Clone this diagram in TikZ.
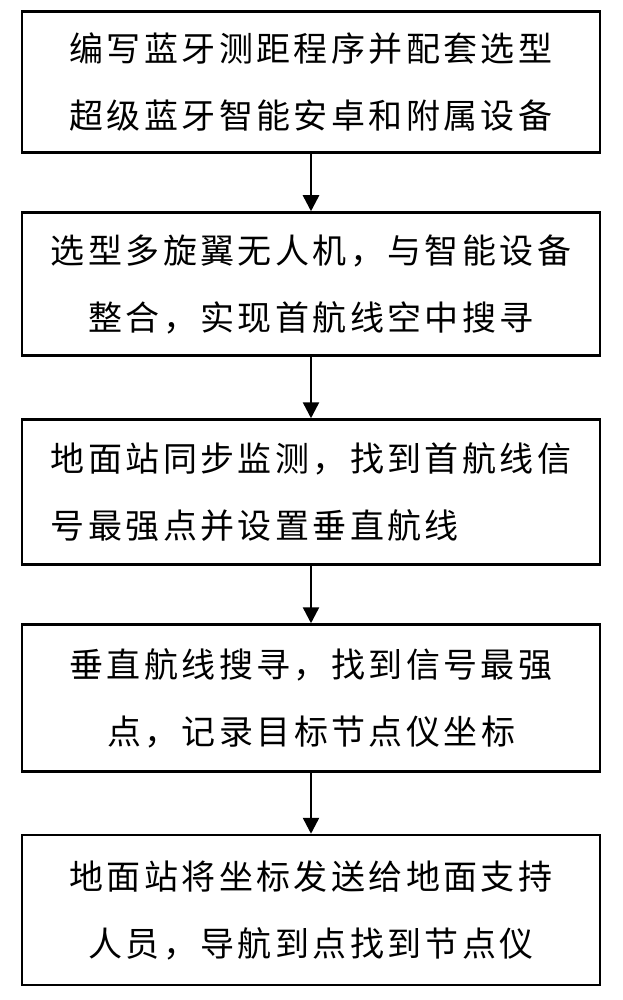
\documentclass[tikz,border=0pt]{standalone}
\usepackage{fontspec}
\newfontfamily\cjk[LetterSpace=10]{Noto Sans CJK SC}
\usetikzlibrary{arrows.meta}
\begin{document}
\begin{tikzpicture}[x=1pt,y=-1pt,
  box/.style={draw,line width=2.5pt,minimum width=578pt,inner sep=0pt,font=\cjk\fontsize{34}{67}\selectfont},
  arr/.style={-{Triangle[length=16pt,width=16pt]},line width=2.5pt}]
\useasboundingbox (0,0) rectangle (622,1000);
\node[box,minimum height=141pt,align=center] (b1) at (311,82) {编写蓝牙测距程序并配套选型\\超级蓝牙智能安卓和附属设备};
\node[box,minimum height=143pt,align=center] (b2) at (311,284) {选型多旋翼无人机，与智能设备\\整合，实现首航线空中搜寻};
\node[box,minimum height=145pt,align=left] (b3) at (311,492) {地面站同步监测，找到首航线信\\号最强点并设置垂直航线};
\node[box,minimum height=147pt,align=center] (b4) at (311,698) {垂直航线搜寻，找到信号最强\\点，记录目标节点仪坐标};
\node[box,minimum height=150pt,align=center] (b5) at (311,910) {地面站将坐标发送给地面支持\\人员，导航到点找到节点仪};
\draw[arr] (b1) -- (b2);
\draw[arr] (b2) -- (b3);
\draw[arr] (b3) -- (b4);
\draw[arr] (b4) -- (b5);
\end{tikzpicture}
\end{document}
